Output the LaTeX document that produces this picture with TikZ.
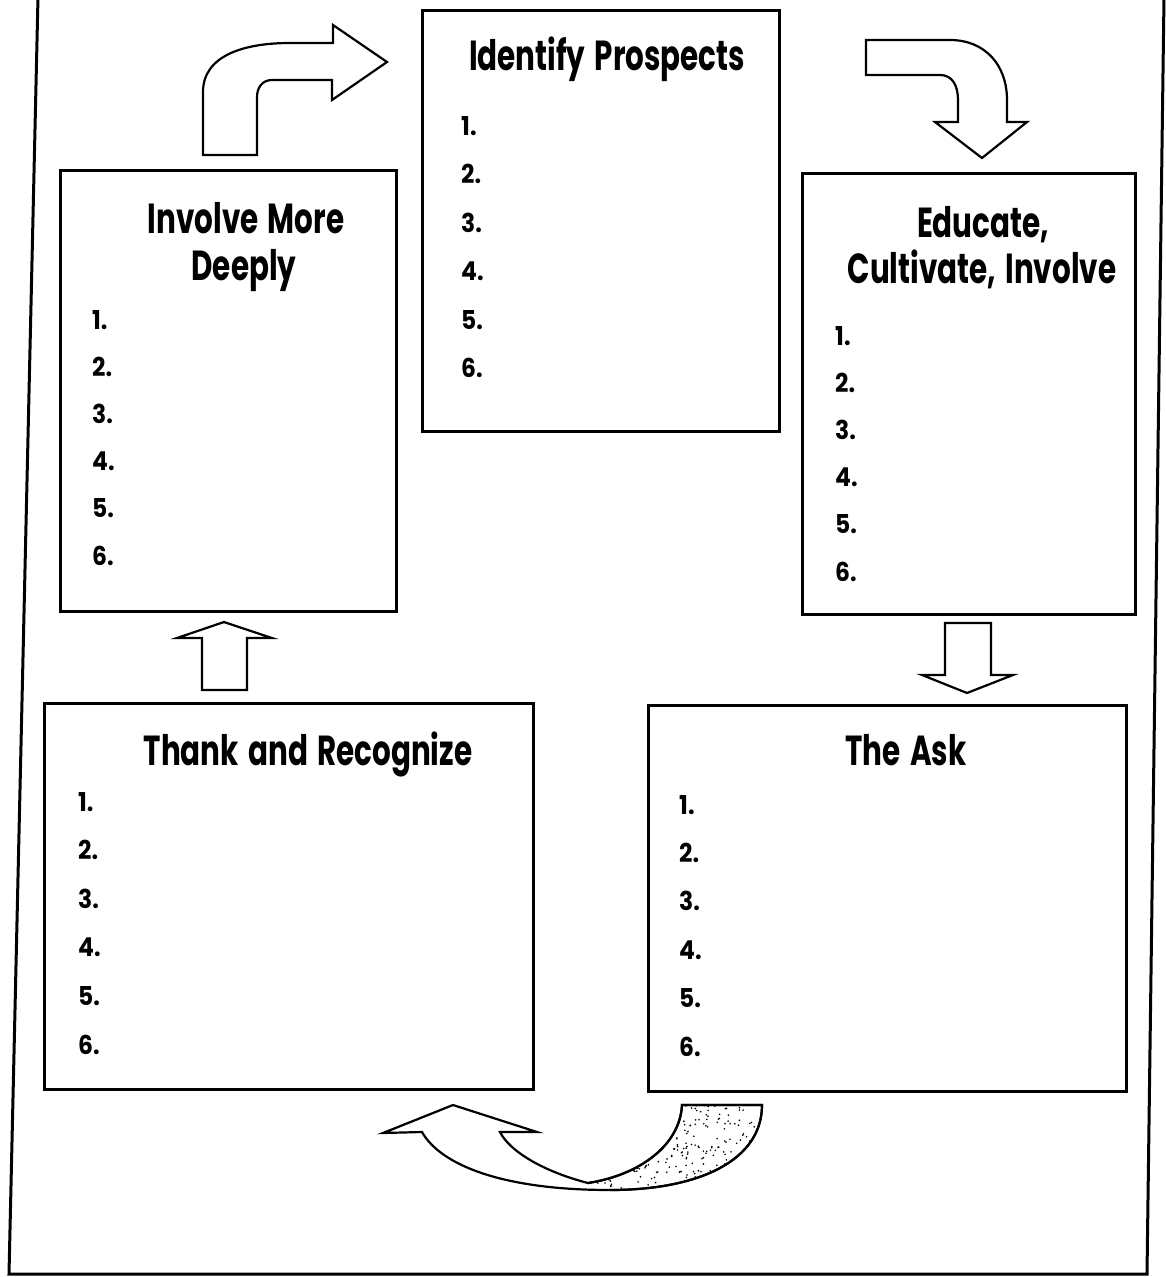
\documentclass[tikz,border=0pt]{standalone}
\usepackage{fontspec}
\newfontfamily\titlef[FakeStretch=0.70,WordSpace=1.5]{Poppins}
\newfontfamily\numf[FakeStretch=0.9]{Poppins}
\begin{document}
\begin{tikzpicture}[x=1pt,y=-1pt,
  box/.style={draw, line width=2.6pt, anchor=north west, inner sep=0pt},
  ttl/.style={anchor=base, inner sep=0pt, font=\titlef\bfseries\fontsize{42}{46}\selectfont},
  num/.style={anchor=base west, inner sep=0pt, font=\numf\bfseries\fontsize{26}{28}\selectfont},
  arr/.style={draw, line width=2.2pt, fill=white, line join=miter}
]
\useasboundingbox (0,0) rectangle (1165,1277);
% outer frame
\draw[line width=3pt] (38,-3) -- (9,1274) -- (1147,1274) -- (1164,-3);

% boxes
\node[box, minimum width=357pt, minimum height=421pt] (ip)  at (421,9)   {};
\node[box, minimum width=336pt, minimum height=441pt] (imd) at (59,169)  {};
\node[box, minimum width=333pt, minimum height=441pt] (eci) at (801,172) {};
\node[box, minimum width=489pt, minimum height=386pt] (tr)  at (43,702)  {};
\node[box, minimum width=478pt, minimum height=386pt] (ask) at (647,704) {};

% titles
\node[ttl] (ipT)  at (607,70)  {Identify Prospects};
\node[ttl] (imdT1) at (246,233) {Involve More};
\node[ttl] (imdT2) at (244,280) {Deeply};
\node[ttl] (eciT1) at (983,237) {Educate,};
\node[ttl] (eciT2) at (982,283) {Cultivate, Involve};
\node[ttl] (trT)  at (308,765) {Thank and Recognize};
\node[ttl] (askT) at (906,765) {The Ask};

% numbered lines
\foreach \i in {1,...,6} {
  \node[num] (ipN\i)  at (461, {135+(\i-1)*48.5}) {\i.};
  \node[num] (imdN\i) at (92,  {329+(\i-1)*47.2}) {\i.};
  \node[num] (eciN\i) at (835, {345+(\i-1)*47.2}) {\i.};
  \node[num] (trN\i)  at (78,  {811+(\i-1)*48.6}) {\i.};
  \node[num] (askN\i) at (679, {814+(\i-1)*48.4}) {\i.};
}

% curved arrow up-right (Involve -> Identify)
\draw[arr] (203,155) -- (203,92) .. controls (203,55) and (245,43) .. (290,43)
  -- (333,43) -- (333,25) -- (387,62) -- (332,100) -- (332,80) -- (272,80)
  .. controls (262,80) and (257,88) .. (257,97) -- (257,155) -- cycle;

% curved arrow down (Identify -> Educate)
\draw[arr] (866,40) -- (950,40) .. controls (985,40) and (1007,65) .. (1007,100)
  -- (1007,122) -- (1027,122) -- (982,158) -- (935,122) -- (958,122) -- (958,100)
  .. controls (958,85) and (952,75) .. (940,75) -- (866,75) -- cycle;

% straight up arrow (Thank -> Involve)
\draw[arr] (202,690) -- (202,638) -- (177,638) -- (224,622) -- (272,638)
  -- (247,638) -- (247,690) -- cycle;

% straight down arrow (Educate -> Ask)
\draw[arr] (945,623) -- (991,623) -- (991,675) -- (1013,675) -- (967,693)
  -- (922,675) -- (945,675) -- cycle;

% bottom ribbon arrow (Ask -> Thank)
\draw[arr] (422,1132) .. controls (440,1164) and (500,1190) .. (610,1190)
  .. controls (700,1190) and (762,1160) .. (762,1105) -- (682,1105)
  .. controls (680,1145) and (640,1175) .. (588,1183)
  .. controls (545,1172) and (510,1152) .. (500,1132)
  -- (537,1132) -- (453,1105) -- (383,1133) -- cycle;
\begin{scope}
  \clip (588,1183) .. controls (640,1175) and (680,1145) .. (682,1105)
    -- (762,1105) .. controls (762,1160) and (700,1190) .. (610,1190) -- cycle;
  \pgfmathsetseed{11}
  \foreach \k in {1,...,380} {
    \pgfmathsetmacro\xx{585+rnd*180}
    \pgfmathsetmacro\yy{1104+rnd*88}
    \fill (\xx,\yy) circle (0.9pt);
  }
\end{scope}
\draw[line width=2.2pt] (588,1183) .. controls (640,1175) and (680,1145) .. (682,1105)
  -- (762,1105) .. controls (762,1160) and (700,1190) .. (610,1190);
\end{tikzpicture}
\end{document}
